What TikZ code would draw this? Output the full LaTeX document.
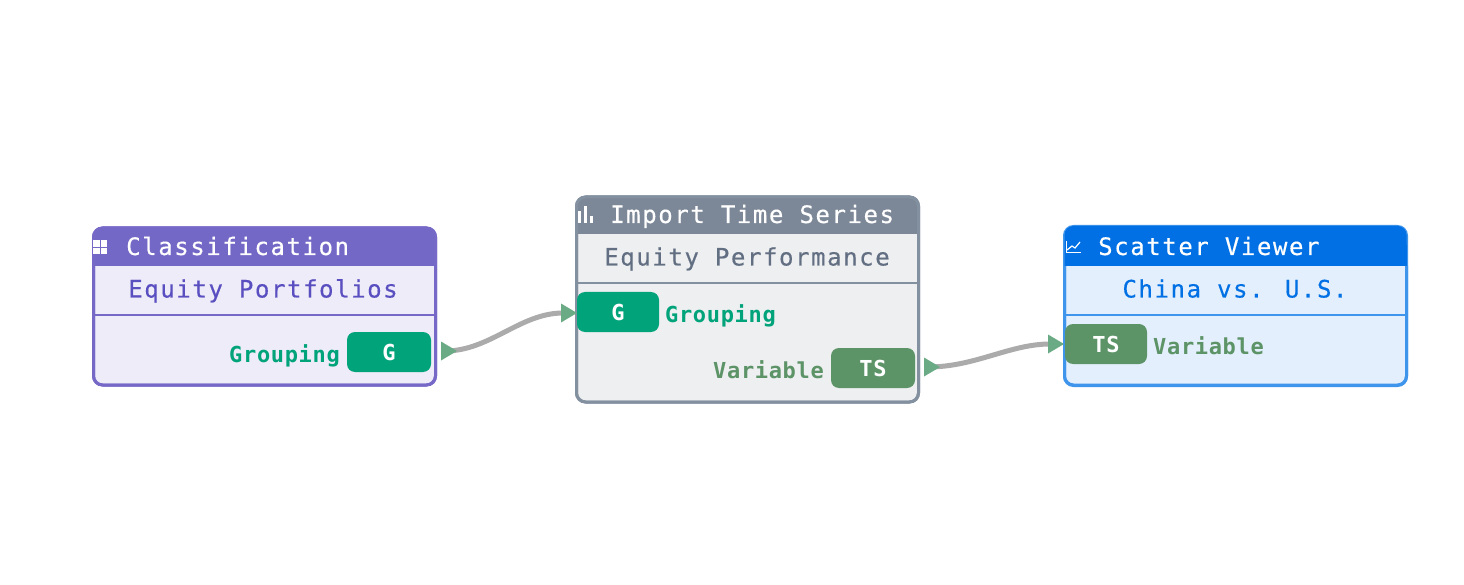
\documentclass[tikz,border=0pt]{standalone}
\usepackage{fontspec}
\newfontfamily\titlefont[LetterSpace=6.6,FakeBold=0.4]{DejaVu Sans Mono}
\newfontfamily\labelfont[LetterSpace=3]{DejaVu Sans Mono Bold}
\definecolor{purpleline}{HTML}{7568C7}
\definecolor{purplehead}{HTML}{7468C6}
\definecolor{purplebody}{HTML}{EEECF9}
\definecolor{purpletext}{HTML}{5A4FC0}
\definecolor{greyline}{HTML}{8390A0}
\definecolor{greyhead}{HTML}{7C8898}
\definecolor{greybody}{HTML}{EEEFF1}
\definecolor{greytext}{HTML}{626F82}
\definecolor{blueline}{HTML}{3F95EC}
\definecolor{bluehead}{HTML}{0070E4}
\definecolor{bluebody}{HTML}{E3EFFC}
\definecolor{groupcol}{HTML}{00A37A}
\definecolor{varcol}{HTML}{5C9367}
\definecolor{portcol}{HTML}{6AAA85}
\definecolor{wirecol}{HTML}{ABABAB}
\tikzset{
  x=1pt,y=-1pt,
  cardbox/.style={draw=#1,line width=3pt,rounded corners=9pt,inner sep=0pt,minimum width=342pt},
  headtext/.style={text=white,anchor=base west,inner sep=0pt,font=\titlefont\fontsize{24}{24}\selectfont},
  subtext/.style={anchor=base,inner sep=0pt,font=\titlefont\fontsize{24}{24}\selectfont},
  portlabel/.style={inner sep=0pt,anchor=base,font=\labelfont\fontsize{22}{22}\selectfont},
  pill/.style={fill=#1,rounded corners=8pt,inner sep=0pt,minimum height=40pt,text=white,font=\labelfont\fontsize{22}{22}\selectfont},
  wire/.style={draw=wirecol,line width=5pt},
  tip/.style={fill=portcol},
}
\newcommand{\porttip}[1]{\fill[tip] ([shift={(-16,-9.5)}]#1) -- (#1) -- ([shift={(-16,9.5)}]#1) -- cycle;}
\begin{document}
\begin{tikzpicture}
\useasboundingbox (0,0) rectangle (1464,585);
\fill[white] (0,0) rectangle (1464,585);

% Classification card
\node[cardbox=purpleline,fill=purplebody,minimum height=157pt] (boxa) at (264.5,306.5) {};
\fill[purplehead,rounded corners=9pt] (93.5,266) |- (435.5,228) [sharp corners] -- (435.5,266) -- cycle;
\fill[purplehead] (93.5,245) rectangle (435.5,266);
\draw[purpleline,line width=3pt,rounded corners=9pt] (93.5,228) rectangle (435.5,385);
\coordinate (diva) at (264,315);
\draw[purpleline,line width=2pt] (boxa.west |- diva) -- (boxa.east |- diva);
\fill[white] (93,240.5) rectangle (99.5,247);
\fill[white] (100.5,240.5) rectangle (107,247);
\fill[white] (93,248) rectangle (99.5,254.5);
\fill[white] (100.5,248) rectangle (107,254.5);
\node[headtext] (titlea) at (126,255) {Classification};
\node[subtext,text=purpletext] (suba) at (263,297.5) {Equity Portfolios};
\node[pill=groupcol,minimum width=84pt] (pilla) at (389,352) {G};
\node[portlabel,text=groupcol,anchor=base east] (laba) at (340,362) {Grouping};

% Import Time Series card
\node[cardbox=greyline,fill=greybody,minimum height=205pt] (boxb) at (747.5,299.5) {};
\fill[greyhead,rounded corners=9pt] (576.5,234) |- (918.5,197) [sharp corners] -- (918.5,234) -- cycle;
\fill[greyhead] (576.5,215) rectangle (918.5,234);
\draw[greyline,line width=3pt,rounded corners=9pt] (576.5,197) rectangle (918.5,402);
\coordinate (divb) at (747,283);
\draw[greyline,line width=2pt] (boxb.west |- divb) -- (boxb.east |- divb);
\fill[white] (578,211) rectangle (581,223);
\fill[white] (584,206) rectangle (587,223);
\fill[white] (590,216) rectangle (593,223);
\node[headtext] (titleb) at (610,223) {Import Time Series};
\node[subtext,text=greytext] (subb) at (747,265.5) {Equity Performance};
\node[pill=groupcol,minimum width=82pt] (pillb) at (618,312) {G};
\node[portlabel,text=groupcol,anchor=base west] (labb) at (665,322) {Grouping};
\node[pill=varcol,minimum width=84pt] (pillc) at (873,368) {TS};
\node[portlabel,text=varcol,anchor=base east] (labc) at (824,378) {Variable};

% Scatter Viewer card
\node[cardbox=blueline,fill=bluebody,minimum height=159pt] (boxc) at (1235.5,306) {};
\fill[bluehead,rounded corners=9pt] (1064.5,266) |- (1406.5,226) [sharp corners] -- (1406.5,266) -- cycle;
\fill[bluehead] (1064.5,245) rectangle (1406.5,266);
\draw[blueline,line width=3pt,rounded corners=9pt] (1064.5,266) -- (1064.5,385) -- (1406.5,385) -- (1406.5,266);
\coordinate (divc) at (1235,315);
\draw[blueline,line width=2pt] (boxc.west |- divc) -- (boxc.east |- divc);
\draw[white,line width=1pt] (1066,241) -- (1066,252.5) -- (1081,252.5);
\draw[white,line width=1.2pt] (1067,250) -- (1072,246) -- (1075,248) -- (1080,242);
\node[headtext] (titlec) at (1098,255) {Scatter Viewer};
\node[subtext,text=bluehead] (subc) at (1235,297.5) {China vs. U.S.};
\node[pill=varcol,minimum width=82pt] (pilld) at (1106,344) {TS};
\node[portlabel,text=varcol,anchor=base west] (labd) at (1153,354) {Variable};

% Ports and connectors
\coordinate (outa) at (457,351);
\coordinate (inb) at (577,313);
\coordinate (outb) at (940,367);
\coordinate (inc) at (1064,344);
\draw[wire] ([xshift=-12pt]outa) .. controls (490,351) and (520,313) .. ([xshift=-14pt]inb);
\draw[wire] ([xshift=-12pt]outb) .. controls (975,367) and (1010,344) .. ([xshift=-14pt]inc);
\porttip{outa}
\porttip{inb}
\porttip{outb}
\porttip{inc}
\end{tikzpicture}
\end{document}
